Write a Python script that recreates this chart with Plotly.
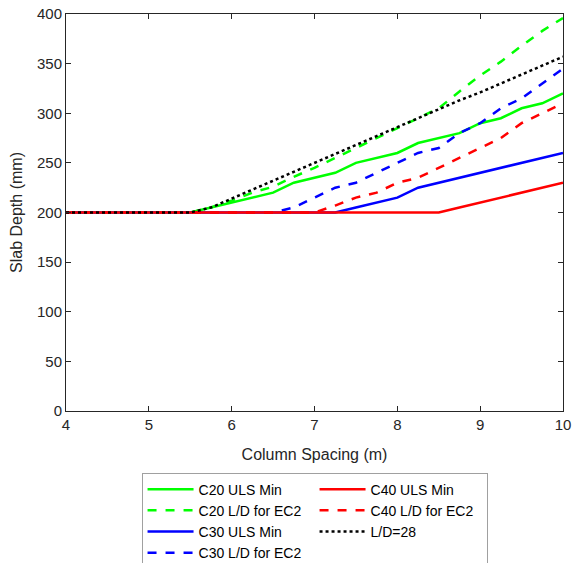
import plotly.graph_objects as go

spacing = [4.0, 4.25, 4.5, 4.75, 5.0, 5.25, 5.5, 5.75, 6.0, 6.25, 6.5, 6.75, 7.0,
           7.25, 7.5, 7.75, 8.0, 8.25, 8.5, 8.75, 9.0, 9.25, 9.5, 9.75, 10.0]

c20_uls = [200, 200, 200, 200, 200, 200, 200, 205, 210, 215, 220, 230, 235,
           240, 250, 255, 260, 270, 275, 280, 290, 295, 305, 310, 320]
c20_ld = [200, 200, 200, 200, 200, 200, 200, 205, 212, 220, 226, 236, 245,
          255, 265, 275, 285, 295, 305, 322, 338, 352, 368, 383, 396]
c30_uls = [200, 200, 200, 200, 200, 200, 200, 200, 200, 200, 200, 200, 200,
           200, 205, 210, 215, 225, 230, 235, 240, 245, 250, 255, 260]
c30_ld = [200, 200, 200, 200, 200, 200, 200, 200, 200, 200, 200, 205, 215,
          225, 230, 240, 250, 260, 265, 280, 290, 305, 315, 330, 345]
c40_uls = [200, 200, 200, 200, 200, 200, 200, 200, 200, 200, 200, 200, 200,
           200, 200, 200, 200, 200, 200, 205, 210, 215, 220, 225, 230]
c40_ld = [200, 200, 200, 200, 200, 200, 200, 200, 200, 200, 200, 200, 200,
          207, 215, 220, 230, 235, 245, 255, 265, 275, 290, 300, 310]
ld28 = [200, 200, 200, 200, 200, 200, 200, 205, 214, 223, 232, 241, 250,
        259, 268, 277, 286, 295, 304, 313, 321, 330, 339, 348, 357]

GREEN, BLUE, RED, BLACK = "#00FF00", "#0000FF", "#FF0000", "#000000"

# drawing order as in the reference; legendrank gives the 2-column legend layout
traces = [
    ("C20 ULS Min", c20_uls, GREEN, "solid", 1),
    ("C20 L/D for EC2", c20_ld, GREEN, "dash", 3),
    ("C30 ULS Min", c30_uls, BLUE, "solid", 5),
    ("C30 L/D for EC2", c30_ld, BLUE, "dash", 7),
    ("C40 ULS Min", c40_uls, RED, "solid", 2),
    ("C40 L/D for EC2", c40_ld, RED, "dash", 4),
    ("L/D=28", ld28, BLACK, "dot", 6),
]

fig = go.Figure()
for name, ys, col, dash, rank in traces:
    fig.add_trace(go.Scatter(x=spacing, y=ys, mode="lines", name=name, legendrank=rank,
                             line=dict(color=col, width=2.5, dash=dash)))

axis_common = dict(showline=True, linecolor="#262626", linewidth=1, mirror="ticks",
                   ticks="inside", ticklen=5, tickcolor="#262626", showgrid=False,
                   zeroline=False, tickfont=dict(size=15, color="#262626"),
                   ticklabeloverflow="allow")

fig.update_layout(
    width=572, height=563,
    margin=dict(l=66, r=9, t=14, b=152, autoexpand=False),
    paper_bgcolor="white", plot_bgcolor="white",
    font=dict(family="Liberation Sans, Arial, sans-serif", color="#262626"),
    xaxis=dict(range=[4, 10], dtick=1, tick0=4,
               title=dict(text="Column Spacing (m)", font=dict(size=16), standoff=16),
               **axis_common),
    yaxis=dict(range=[0, 400], dtick=50, tick0=0,
               title=dict(text="Slab Depth (mm)", font=dict(size=16), standoff=10),
               **axis_common),
    legend=dict(orientation="h", x=0.152, xanchor="left", y=-0.155, yanchor="top",
                entrywidth=111, bordercolor="#A0A0A0", borderwidth=1,
                font=dict(size=14, color="#000000"), tracegroupgap=0,
                itemwidth=46, bgcolor="white"),
)

fig.write_html("out.html", config={"displayModeBar": False},
               post_script="document.body.style.margin='0';")
